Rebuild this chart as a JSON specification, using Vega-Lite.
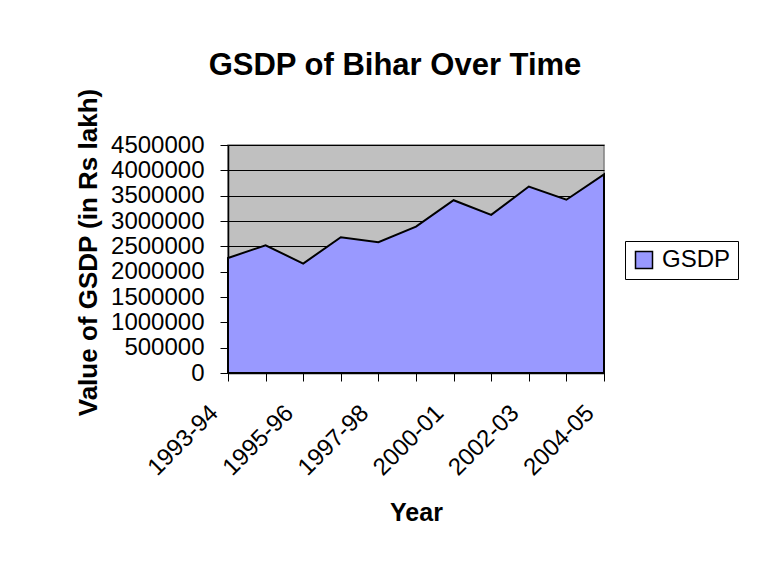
{
  "$schema": "https://vega.github.io/schema/vega-lite/v6.json",
  "width": 376,
  "height": 228,
  "autosize": "none",
  "padding": {"left": 228, "top": 145, "right": 158, "bottom": 201},
  "background": "white",
  "title": {
    "text": "GSDP of Bihar Over Time",
    "font": "Liberation Sans",
    "fontSize": 31,
    "fontWeight": "bold",
    "color": "black",
    "anchor": "middle",
    "dx": -21,
    "offset": 6
  },
  "data": {
    "values": [
      {"year": "1993-94", "gsdp": 2270000},
      {"year": "1994-95", "gsdp": 2520000},
      {"year": "1995-96", "gsdp": 2160000},
      {"year": "1996-97", "gsdp": 2680000},
      {"year": "1997-98", "gsdp": 2580000},
      {"year": "1998-99", "gsdp": 2890000},
      {"year": "2000-01", "gsdp": 3410000},
      {"year": "2001-02", "gsdp": 3120000},
      {"year": "2002-03", "gsdp": 3680000},
      {"year": "2003-04", "gsdp": 3420000},
      {"year": "2004-05", "gsdp": 3920000}
    ]
  },
  "mark": {
    "type": "area",
    "interpolate": "linear",
    "stroke": "black",
    "strokeWidth": 2,
    "strokeJoin": "miter"
  },
  "encoding": {
    "x": {
      "field": "year",
      "type": "nominal",
      "sort": null,
      "scale": {"type": "point", "padding": 0},
      "axis": {
        "title": "Year",
        "titleFont": "Liberation Sans",
        "titleFontSize": 25,
        "titleFontWeight": "bold",
        "titleColor": "black",
        "titleBaseline": "top",
        "titleY": 127,
        "labelExpr": "indexof(['1993-94','1995-96','1997-98','2000-01','2002-03','2004-05'], datum.value) >= 0 ? datum.value : ''",
        "labelAngle": -45,
        "labelAlign": "right",
        "labelBaseline": "middle",
        "labelOffset": -14,
        "labelPadding": 28,
        "labelFont": "Liberation Sans",
        "labelFontSize": 24,
        "labelColor": "black",
        "labelOverlap": false,
        "tickSize": 8,
        "tickColor": "black",
        "domainColor": "black",
        "domainWidth": 1.5,
        "grid": false
      }
    },
    "y": {
      "field": "gsdp",
      "type": "quantitative",
      "scale": {"domain": [0, 4500000], "nice": false},
      "axis": {
        "title": "Value of GSDP (in Rs lakh)",
        "titleFont": "Liberation Sans",
        "titleFontSize": 26,
        "titleFontWeight": "bold",
        "titleColor": "black",
        "titleAngle": -90,
        "titleAlign": "center",
        "titleBaseline": "alphabetic",
        "titleX": -132,
        "titleY": 107,
        "values": [0, 500000, 1000000, 1500000, 2000000, 2500000, 3000000, 3500000, 4000000, 4500000],
        "format": "d",
        "labelFont": "Liberation Sans",
        "labelFontSize": 24,
        "labelColor": "black",
        "labelPadding": 16,
        "labelOverlap": false,
        "tickSize": 8,
        "tickColor": "black",
        "domainColor": "black",
        "domainWidth": 1.5,
        "grid": true,
        "gridColor": "black",
        "gridWidth": 1
      }
    },
    "color": {
      "datum": "GSDP",
      "type": "nominal",
      "scale": {"range": ["#9999FF"]},
      "legend": {
        "title": null,
        "orient": "none",
        "legendX": 397,
        "legendY": 96,
        "padding": 7,
        "strokeColor": "black",
        "symbolType": "square",
        "symbolSize": 289,
        "symbolStrokeColor": "black",
        "symbolStrokeWidth": 1.5,
        "symbolFillColor": "#9999FF",
        "symbolOpacity": 1,
        "labelFont": "Liberation Sans",
        "labelFontSize": 24,
        "labelColor": "black",
        "labelOffset": 6
      }
    }
  },
  "config": {
    "view": {"fill": "#C0C0C0", "stroke": "#808080", "strokeWidth": 1.5}
  }
}
